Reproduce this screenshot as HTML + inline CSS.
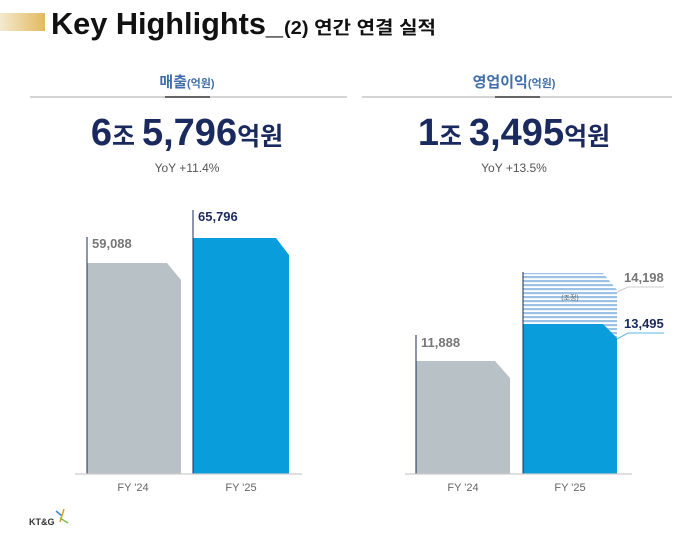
<!DOCTYPE html>
<html><head><meta charset="utf-8"><style>
body{margin:0;background:#fff;width:680px;height:533px;overflow:hidden}
svg{display:block}
text{font-family:"Liberation Sans","Noto Sans CJK KR",sans-serif}
</style></head><body>
<svg width="680" height="533" viewBox="0 0 680 533">
<defs>
<linearGradient id="g" x1="0" x2="1"><stop offset="0" stop-color="#f3ead0"/><stop offset="1" stop-color="#e2b95e"/></linearGradient>
<pattern id="h" width="4" height="4" patternUnits="userSpaceOnUse"><rect width="4" height="4" fill="#fff"/><rect width="4" height="2.2" fill="#9cc3e6"/></pattern>
</defs>
<rect x="0" y="13" width="45" height="18" fill="url(#g)"/>
<text x="51" y="34" font-size="31" font-weight="bold" fill="#111" textLength="232" lengthAdjust="spacingAndGlyphs">Key Highlights_</text>
<text x="284" y="34" font-size="18" font-weight="bold" fill="#111" textLength="152" lengthAdjust="spacingAndGlyphs">(2) 연간 연결 실적</text>

<text x="187" y="87" font-size="15" font-weight="bold" fill="#3f6ea8" text-anchor="middle">매출<tspan font-size="11">(억원)</tspan></text>
<text x="514" y="87" font-size="15" font-weight="bold" fill="#3f6ea8" text-anchor="middle">영업이익<tspan font-size="11">(억원)</tspan></text>
<line x1="30" y1="97" x2="347" y2="97" stroke="#bbb" stroke-width="1.2"/>
<line x1="165" y1="97" x2="210" y2="97" stroke="#666" stroke-width="2"/>
<line x1="362" y1="97" x2="672" y2="97" stroke="#bbb" stroke-width="1.2"/>
<line x1="495" y1="97" x2="540" y2="97" stroke="#666" stroke-width="2"/>

<text x="187" y="145" font-size="38" font-weight="bold" fill="#1a2a5e" text-anchor="middle">6<tspan font-size="25">조 </tspan>5,796<tspan font-size="25">억원</tspan></text>
<text x="514" y="145" font-size="38" font-weight="bold" fill="#1a2a5e" text-anchor="middle">1<tspan font-size="25">조 </tspan>3,495<tspan font-size="25">억원</tspan></text>
<text x="187" y="172" font-size="12" fill="#555" text-anchor="middle">YoY +11.4%</text>
<text x="514" y="172" font-size="12" fill="#555" text-anchor="middle">YoY +13.5%</text>

<polygon points="87,263 167,263 181,280 181,474 87,474" fill="#b8c1c6"/>
<line x1="87" y1="237" x2="87" y2="474" stroke="#1a2a5e" stroke-width="1"/>
<polygon points="193,238 276,238 289,255 289,474 193,474" fill="#0a9ddc"/>
<line x1="193" y1="210" x2="193" y2="474" stroke="#1a2a5e" stroke-width="1"/>
<line x1="75" y1="474" x2="302" y2="474" stroke="#ccc" stroke-width="1.2"/>
<text x="92" y="248" font-size="13" font-weight="bold" fill="#777">59,088</text>
<text x="198" y="221" font-size="13" font-weight="bold" fill="#1a2a5e">65,796</text>
<text x="133" y="491" font-size="11" fill="#666" text-anchor="middle">FY '24</text>
<text x="241" y="491" font-size="11" fill="#666" text-anchor="middle">FY '25</text>

<polygon points="416,361 495,361 510,378 510,474 416,474" fill="#b8c1c6"/>
<line x1="416" y1="335" x2="416" y2="474" stroke="#1a2a5e" stroke-width="1"/>
<polygon points="523,273 603,273 617,290 617,338 603,324 523,324" fill="url(#h)"/>
<polygon points="523,324 603,324 617,338 617,474 523,474" fill="#0a9ddc"/>
<line x1="523" y1="272" x2="523" y2="474" stroke="#1a2a5e" stroke-width="1"/>
<line x1="405" y1="474" x2="632" y2="474" stroke="#ccc" stroke-width="1.2"/>
<text x="570" y="300" font-size="7" fill="#666" text-anchor="middle">(조정)</text>
<polyline points="617,292 628,287 664,287" fill="none" stroke="#ccc" stroke-width="1"/>
<polyline points="617,339 628,333 664,333" fill="none" stroke="#5bb8e0" stroke-width="1"/>
<text x="624" y="282" font-size="13" font-weight="bold" fill="#777">14,198</text>
<text x="624" y="328" font-size="13" font-weight="bold" fill="#1a2a5e">13,495</text>
<text x="421" y="347" font-size="13" font-weight="bold" fill="#777">11,888</text>
<text x="463" y="491" font-size="11" fill="#666" text-anchor="middle">FY '24</text>
<text x="570" y="491" font-size="11" fill="#666" text-anchor="middle">FY '25</text>

<text x="29" y="525" font-size="9" font-weight="bold" fill="#333">KT&amp;G</text>
<line x1="56" y1="511" x2="62" y2="516" stroke="#2a8fd0" stroke-width="1.5"/>
<line x1="64" y1="509" x2="60" y2="522" stroke="#e0a020" stroke-width="1.5"/>
<line x1="60" y1="518" x2="68" y2="523" stroke="#7cc04a" stroke-width="1.5"/>
</svg>
</body></html>
